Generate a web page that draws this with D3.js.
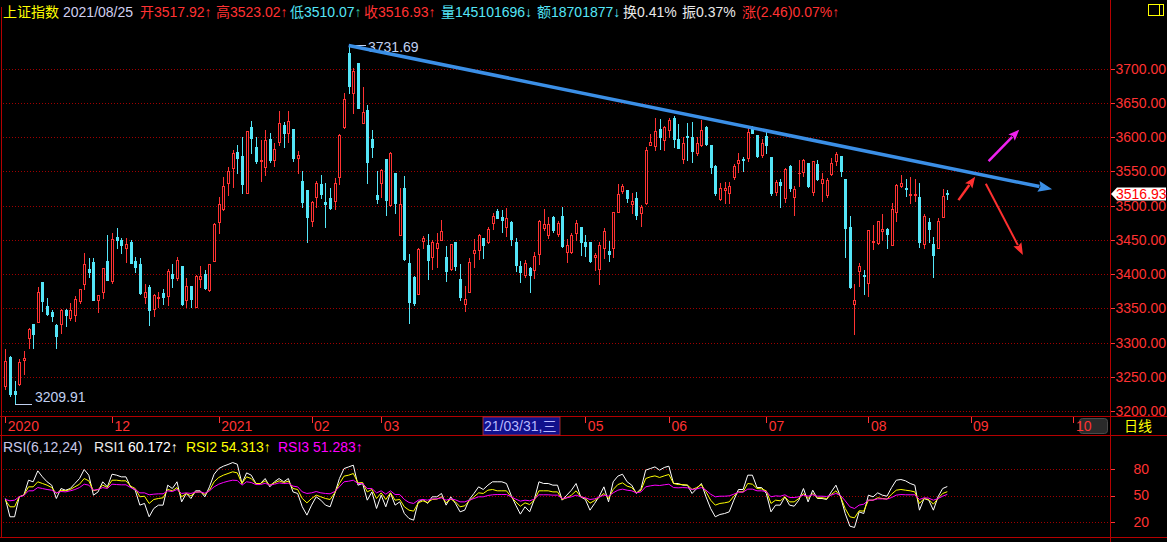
<!DOCTYPE html>
<html><head><meta charset="utf-8">
<script src="https://cdn.jsdelivr.net/npm/d3@7"></script>
<style>
html,body{margin:0;padding:0;background:#000;overflow:hidden}
svg{display:block}
text{font-family:"Liberation Sans","Noto Sans CJK SC",Arial,sans-serif;font-size:14px}
</style></head><body>
<svg id="c" width="1167" height="542"></svg>
<script>
// ---------------- DATA ----------------
const dates = [
"2020-10-29","2020-10-30",
"2020-11-02","2020-11-03","2020-11-04","2020-11-05","2020-11-06","2020-11-09","2020-11-10","2020-11-11","2020-11-12","2020-11-13","2020-11-16","2020-11-17","2020-11-18","2020-11-19","2020-11-20","2020-11-23","2020-11-24","2020-11-25","2020-11-26","2020-11-27","2020-11-30",
"2020-12-01","2020-12-02","2020-12-03","2020-12-04","2020-12-07","2020-12-08","2020-12-09","2020-12-10","2020-12-11","2020-12-14","2020-12-15","2020-12-16","2020-12-17","2020-12-18","2020-12-21","2020-12-22","2020-12-23","2020-12-24","2020-12-25","2020-12-28","2020-12-29","2020-12-30","2020-12-31",
"2021-01-04","2021-01-05","2021-01-06","2021-01-07","2021-01-08","2021-01-11","2021-01-12","2021-01-13","2021-01-14","2021-01-15","2021-01-18","2021-01-19","2021-01-20","2021-01-21","2021-01-22","2021-01-25","2021-01-26","2021-01-27","2021-01-28","2021-01-29",
"2021-02-01","2021-02-02","2021-02-03","2021-02-04","2021-02-05","2021-02-08","2021-02-09","2021-02-10","2021-02-18","2021-02-19","2021-02-22","2021-02-23","2021-02-24","2021-02-25","2021-02-26",
"2021-03-01","2021-03-02","2021-03-03","2021-03-04","2021-03-05","2021-03-08","2021-03-09","2021-03-10","2021-03-11","2021-03-12","2021-03-15","2021-03-16","2021-03-17","2021-03-18","2021-03-19","2021-03-22","2021-03-23","2021-03-24","2021-03-25","2021-03-26","2021-03-29","2021-03-30","2021-03-31",
"2021-04-01","2021-04-02","2021-04-06","2021-04-07","2021-04-08","2021-04-09","2021-04-12","2021-04-13","2021-04-14","2021-04-15","2021-04-16","2021-04-19","2021-04-20","2021-04-21","2021-04-22","2021-04-23","2021-04-26","2021-04-27","2021-04-28","2021-04-29","2021-04-30",
"2021-05-06","2021-05-07","2021-05-10","2021-05-11","2021-05-12","2021-05-13","2021-05-14","2021-05-17","2021-05-18","2021-05-19","2021-05-20","2021-05-21","2021-05-24","2021-05-25","2021-05-26","2021-05-27","2021-05-28","2021-05-31",
"2021-06-01","2021-06-02","2021-06-03","2021-06-04","2021-06-07","2021-06-08","2021-06-09","2021-06-10","2021-06-11","2021-06-15","2021-06-16","2021-06-17","2021-06-18","2021-06-21","2021-06-22","2021-06-23","2021-06-24","2021-06-25","2021-06-28","2021-06-29","2021-06-30",
"2021-07-01","2021-07-02","2021-07-05","2021-07-06","2021-07-07","2021-07-08","2021-07-09","2021-07-12","2021-07-13","2021-07-14","2021-07-15","2021-07-16","2021-07-19","2021-07-20","2021-07-21","2021-07-22","2021-07-23","2021-07-26","2021-07-27","2021-07-28","2021-07-29","2021-07-30",
"2021-08-02","2021-08-03","2021-08-04","2021-08-05","2021-08-06","2021-08-09","2021-08-10","2021-08-11","2021-08-12","2021-08-13","2021-08-16","2021-08-17","2021-08-18","2021-08-19","2021-08-20","2021-08-23","2021-08-24","2021-08-25"
];
const open = [
3237.1,3279.0,3228.8,3240.0,3274.1,3306.8,3326.8,3330.2,3388.1,3354.0,
3344.3,3326.3,3326.8,3347.2,3336.5,3340.9,3360.9,3386.2,3408.1,3417.4,
3361.8,3374.0,3418.9,3390.1,3454.4,3449.6,3438.8,3446.6,3418.9,3415.4,
3366.7,3380.4,3349.6,3365.5,3372.0,3368.2,3400.8,3394.9,3411.5,3362.8,
3382.3,3352.1,3393.0,3399.8,3376.4,3419.7,3476.4,3494.4,3532.4,3554.3,
3578.2,3572.4,3518.8,3614.3,3585.0,3565.0,3556.8,3597.2,3566.5,3592.4,
3617.7,3606.5,3611.4,3569.0,3535.3,3522.7,3477.8,3511.9,3531.4,3504.6,
3511.0,3506.1,3541.2,3614.3,3722.5,3664.0,3707.9,3620.1,3639.6,3596.7,
3515.8,3533.4,3567.5,3500.7,3547.0,3457.8,3526.0,3416.4,3395.9,3371.6,
3448.6,3442.3,3425.2,3437.4,3450.5,3425.2,3406.7,3446.6,3393.5,3357.0,
3374.0,3431.0,3435.0,3452.0,3447.1,3473.9,3492.5,3484.0,3469.0,3476.4,
3447.1,3411.5,3398.4,3409.6,3405.7,3429.1,3467.6,3457.8,3483.0,3458.0,
3484.7,3432.5,3432.5,3459.3,3469.0,3447.1,3446.6,3425.2,3408.1,3437.4,
3433.0,3437.4,3491.0,3521.7,3522.7,3502.2,3511.4,3488.6,3504.1,3588.5,
3587.0,3611.4,3595.8,3610.4,3628.4,3597.2,3567.5,3602.0,3600.6,3576.3,
3588.5,3615.3,3588.5,3557.8,3509.0,3523.0,3517.8,3541.2,3561.6,3567.5,
3569.0,3614.3,3603.1,3573.8,3601.6,3570.4,3519.2,3534.8,3510.5,3557.7,
3512.9,3547.0,3549.5,3561.6,3520.2,3560.2,3532.4,3515.3,3545.6,3565.5,
3572.4,3538.7,3468.1,3356.0,3404.7,3399.0,3387.2,3447.0,3444.7,3463.2,
3465.6,3443.2,3490.0,3529.0,3525.5,3516.0,3515.3,3511.9,3443.7,3475.4,
3443.7,3438.8,3483.7,3517.92
];
const high = [
3290.2,3280.4,3243.4,3276.1,3287.3,3320.9,3326.8,3380.4,3388.5,3365.7,
3347.2,3326.5,3349.6,3349.6,3357.9,3367.7,3378.9,3431.5,3424.2,3424.2,
3370.0,3408.5,3457.8,3459.3,3467.1,3453.0,3452.0,3449.1,3425.2,3422.8,
3385.2,3383.8,3371.6,3374.0,3378.9,3407.6,3414.5,3425.2,3412.0,3394.9,
3383.0,3398.0,3412.0,3405.7,3414.5,3474.9,3512.9,3542.2,3556.8,3581.1,
3588.5,3599.7,3608.5,3624.0,3599.7,3595.8,3610.4,3605.5,3590.9,3638.2,
3622.6,3638.2,3612.0,3579.7,3550.0,3523.0,3506.5,3535.3,3544.6,3532.4,
3525.1,3539.7,3604.0,3665.0,3731.69,3700.5,3708.0,3673.7,3646.9,3610.4,
3551.0,3553.9,3568.0,3578.0,3547.5,3525.1,3543.1,3429.6,3397.4,3437.4,
3455.4,3458.3,3449.6,3459.3,3478.8,3441.3,3444.0,3447.0,3414.5,3382.3,
3422.8,3451.0,3458.3,3452.5,3469.0,3488.6,3494.4,3494.0,3496.0,3477.0,
3452.0,3419.3,3420.3,3410.0,3432.5,3479.0,3494.4,3483.7,3485.0,3478.0,
3498.3,3451.0,3459.3,3478.8,3469.5,3457.8,3447.0,3431.0,3447.1,3466.6,
3448.1,3490.5,3530.9,3531.0,3523.0,3517.8,3519.2,3500.7,3585.0,3604.0,
3628.4,3626.0,3616.2,3628.4,3630.8,3619.2,3600.6,3620.0,3622.6,3600.6,
3625.0,3616.7,3589.0,3559.2,3533.4,3534.8,3534.8,3560.7,3576.3,3571.4,
3615.3,3616.2,3603.5,3596.7,3611.3,3570.5,3537.3,3538.7,3554.3,3559.2,
3528.5,3566.5,3567.5,3562.0,3565.0,3566.5,3548.0,3539.7,3569.0,3577.7,
3572.5,3539.0,3484.6,3386.2,3416.9,3405.7,3465.0,3471.5,3477.5,3487.6,
3467.6,3503.2,3531.0,3544.6,3538.7,3541.2,3538.7,3533.4,3487.1,3481.2,
3454.4,3482.2,3524.1,3523.02
];
const low = [
3232.2,3221.5,3209.91,3238.0,3254.1,3292.2,3292.2,3330.0,3346.2,3339.9,
3331.1,3292.2,3314.1,3323.8,3332.6,3331.6,3357.9,3377.9,3396.0,3362.0,
3344.8,3365.7,3391.0,3387.7,3437.4,3430.1,3417.9,3416.0,3403.2,3371.5,
3357.9,3325.3,3338.5,3352.0,3357.0,3354.5,3381.3,3391.0,3354.5,3352.1,
3352.1,3352.0,3381.3,3378.9,3375.5,3419.0,3459.3,3493.4,3515.4,3527.5,
3547.0,3518.8,3518.5,3577.2,3562.6,3535.3,3544.6,3564.1,3557.8,3588.5,
3586.0,3592.4,3565.5,3548.0,3498.3,3447.1,3470.0,3497.3,3510.5,3468.1,
3494.4,3494.4,3530.9,3614.0,3665.0,3635.7,3642.0,3620.0,3533.4,3571.4,
3503.2,3512.9,3486.1,3500.0,3488.6,3457.0,3421.0,3328.7,3354.5,3371.0,
3437.4,3393.5,3406.7,3410.6,3449.6,3390.1,3405.7,3405.7,3361.8,3346.2,
3374.0,3410.6,3421.3,3422.8,3446.0,3465.2,3481.2,3461.0,3455.0,3443.2,
3404.7,3388.6,3396.0,3374.0,3395.0,3414.5,3464.2,3452.0,3461.0,3455.0,
3439.8,3417.9,3430.1,3449.6,3427.6,3426.2,3417.9,3405.7,3386.2,3422.8,
3419.4,3425.2,3491.0,3518.8,3505.6,3488.6,3480.3,3470.5,3503.0,3588.0,
3581.1,3582.1,3581.1,3600.6,3585.0,3584.0,3562.6,3567.0,3564.1,3573.8,
3587.0,3588.0,3548.0,3515.4,3508.0,3504.1,3504.1,3538.3,3549.5,3550.9,
3565.5,3606.0,3571.4,3571.4,3576.3,3515.3,3515.3,3498.3,3505.6,3521.7,
3486.1,3528.5,3543.1,3526.6,3515.3,3537.3,3507.1,3512.9,3544.6,3559.2,
3543.1,3425.2,3380.0,3312.72,3382.8,3370.6,3368.2,3436.4,3443.7,3450.5,
3438.4,3442.2,3477.8,3526.6,3514.4,3503.2,3507.1,3439.8,3438.4,3447.1,
3395.9,3438.0,3482.7,3510.07
];
const close = [
3272.74,3224.53,3225.12,3271.07,3277.44,3320.13,3312.16,3373.73,3360.15,3342.20,
3338.68,3310.10,3346.97,3339.90,3347.30,3363.09,3377.73,3414.49,3402.82,3362.33,
3369.73,3408.31,3391.76,3451.94,3449.38,3442.14,3444.58,3416.60,3410.18,3371.96,
3373.28,3347.19,3369.12,3367.23,3366.98,3404.87,3394.90,3420.57,3356.78,3382.32,
3363.11,3396.56,3397.29,3379.04,3414.45,3473.07,3502.96,3528.68,3550.88,3576.20,
3570.11,3531.50,3608.34,3598.65,3565.90,3566.38,3596.22,3566.26,3583.09,3621.26,
3606.75,3624.24,3569.43,3573.34,3505.18,3483.07,3505.28,3533.68,3517.31,3501.86,
3496.33,3532.44,3603.49,3655.09,3675.36,3696.17,3642.44,3636.36,3564.08,3585.05,
3509.08,3551.40,3508.59,3576.90,3503.49,3501.99,3421.41,3359.29,3357.74,3436.83,
3453.08,3419.95,3446.73,3445.55,3463.07,3404.66,3443.44,3411.51,3367.06,3363.59,
3418.33,3435.30,3456.68,3441.91,3466.33,3484.39,3482.48,3479.63,3482.55,3450.68,
3412.95,3403.56,3416.42,3398.99,3426.62,3477.55,3472.94,3472.93,3465.11,3474.17,
3441.17,3442.61,3457.07,3474.90,3446.86,3441.28,3418.87,3427.99,3441.85,3462.75,
3429.54,3490.38,3517.62,3529.01,3510.96,3506.94,3486.56,3497.28,3581.34,3593.36,
3608.85,3600.78,3615.48,3624.71,3597.14,3584.22,3591.84,3599.54,3580.11,3591.40,
3610.86,3589.75,3556.56,3518.33,3525.10,3525.60,3529.18,3557.41,3566.65,3566.22,
3607.56,3606.37,3573.18,3591.20,3588.78,3518.76,3534.32,3530.26,3553.72,3525.50,
3524.09,3547.84,3566.47,3528.50,3564.59,3539.30,3539.12,3536.79,3562.70,3574.73,
3550.40,3467.44,3381.18,3361.59,3411.72,3397.36,3464.29,3447.99,3477.22,3466.56,
3458.23,3494.63,3529.93,3532.62,3524.74,3516.30,3517.34,3446.98,3485.29,3465.55,
3427.33,3477.13,3514.47,3516.93
];
const rsi1 = [
46.6,25.9,25.9,48.5,50.4,67.3,65.5,77.9,71.1,65.5,
61.7,46.6,57.9,56.0,57.9,63.6,69.2,79.4,73.0,50.4,
54.1,65.5,59.8,74.1,73.0,71.1,71.1,59.8,56.0,39.1,
41.0,25.9,35.3,39.1,39.1,61.7,57.9,65.5,42.8,52.3,
46.6,55.3,55.3,48.5,59.8,74.1,80.5,83.2,85.1,87.3,
85.4,63.6,75.6,73.0,63.6,63.6,69.2,59.8,65.5,69.2,
65.5,69.2,54.1,52.3,37.2,27.8,39.1,48.5,44.7,39.1,
37.2,52.3,69.2,80.5,82.4,84.3,61.7,63.6,44.7,54.1,
35.3,50.4,37.2,53.0,39.1,42.8,29.6,24.0,22.1,42.8,
45.5,41.0,48.5,48.5,52.3,39.1,48.5,41.0,31.5,33.4,
45.5,52.3,59.8,56.8,61.7,65.5,65.5,65.5,63.6,50.4,
39.1,28.9,37.2,31.5,45.5,65.5,63.6,63.6,61.7,61.7,
44.7,50.4,56.0,63.6,48.5,45.5,33.4,41.0,49.2,59.8,
42.8,65.5,71.9,74.1,65.5,61.7,52.3,57.9,78.7,80.5,
82.4,78.7,81.7,83.2,63.6,63.6,61.7,61.7,52.3,57.9,
63.6,48.5,35.3,25.9,28.5,29.6,31.5,44.7,56.8,56.8,
73.0,73.0,59.0,59.0,52.3,31.5,39.1,39.1,48.5,39.1,
37.9,44.7,57.9,42.8,56.0,46.6,46.6,45.5,54.1,61.7,
48.5,29.6,15.3,13.8,31.5,29.6,50.4,48.5,53.0,50.4,
49.2,59.0,67.3,68.1,66.6,63.6,61.7,33.4,46.6,44.7,
33.4,48.5,57.9,60.172
];
const rsi2 = [
44.7,37.2,37.2,48.5,50.4,59.8,59.8,65.5,63.6,61.7,
59.0,52.3,56.0,55.3,56.8,59.8,62.8,69.2,66.6,55.3,
56.8,61.7,59.0,67.3,67.3,66.6,66.6,60.6,57.9,48.5,
49.2,41.0,45.5,46.6,47.4,56.8,55.3,59.0,48.5,52.3,
49.6,53.8,54.1,51.1,56.0,65.5,70.4,73.0,74.9,76.8,
75.6,63.6,71.1,69.2,63.6,63.6,66.6,61.7,64.3,66.6,
64.7,66.2,57.9,56.8,46.6,41.7,46.6,50.4,48.5,46.6,
45.5,53.0,63.6,71.9,73.0,74.9,64.3,64.7,54.1,56.8,
46.6,53.0,45.5,53.0,44.7,45.5,37.2,33.4,32.3,41.7,
44.0,42.1,45.5,45.9,48.5,41.7,45.9,42.8,37.2,38.3,
44.0,48.5,53.0,52.3,56.0,56.8,55.3,55.3,55.3,48.5,
42.8,37.9,41.7,39.8,44.7,55.3,55.3,55.3,54.1,54.1,
45.5,47.4,50.4,55.3,48.5,47.0,41.3,44.3,48.1,52.3,
46.6,56.8,62.4,64.3,60.6,59.0,53.0,56.0,69.2,71.1,
72.2,70.4,72.2,73.8,63.6,62.4,62.4,61.7,56.8,59.0,
62.4,54.1,44.7,39.1,41.0,41.7,42.8,49.2,54.1,54.1,
63.6,62.8,57.9,57.5,55.3,41.0,44.7,44.0,48.5,42.8,
42.8,46.6,52.3,46.6,52.3,47.4,47.4,46.6,51.1,55.3,
48.5,35.3,25.9,24.7,32.7,32.3,44.7,44.7,47.4,46.6,
45.9,51.5,56.0,56.8,56.0,55.3,54.1,41.0,46.6,45.5,
40.2,46.6,52.3,54.313
];
const rsi3 = [
45.5,44.0,44.7,48.5,50.0,55.3,55.3,59.0,57.9,56.8,
56.0,53.0,54.5,54.1,55.3,56.8,59.0,62.8,61.7,56.0,
56.8,59.0,57.9,62.8,62.4,62.1,62.1,59.0,56.8,53.0,
53.0,50.8,51.5,51.9,51.9,55.3,54.5,56.8,52.3,53.0,
52.3,53.8,54.1,52.6,55.3,59.8,62.8,64.7,66.2,67.3,
67.0,61.7,65.5,64.7,62.4,62.4,63.9,61.7,62.8,64.3,
63.6,63.9,60.6,59.8,54.1,52.3,53.0,54.5,53.0,52.3,
51.9,54.5,59.8,65.5,66.2,67.3,63.6,63.6,57.9,57.9,
53.0,55.3,51.5,55.3,51.1,51.1,45.5,42.1,41.0,44.7,
45.5,44.7,46.2,46.2,47.4,44.7,46.2,45.1,42.8,42.8,
44.7,46.6,48.5,48.5,50.0,50.8,51.1,51.1,51.1,48.5,
45.9,43.6,44.7,44.0,45.9,50.8,50.8,50.8,50.4,50.4,
46.6,47.4,48.5,50.4,48.5,47.4,45.5,46.2,48.1,50.4,
49.2,53.0,56.0,57.2,56.0,55.3,53.0,54.1,59.8,60.9,
61.7,61.3,62.1,62.8,59.0,58.7,59.0,58.7,56.8,57.5,
59.0,56.0,51.5,48.5,49.2,49.2,49.6,51.5,53.8,53.8,
57.2,57.2,55.3,55.3,54.5,48.5,49.6,49.2,50.8,47.7,
47.7,48.5,50.4,49.2,50.8,49.2,49.2,48.9,50.4,52.3,
50.0,44.0,37.2,35.3,39.1,40.2,44.7,44.7,46.2,46.2,
45.9,47.7,50.4,51.1,50.8,50.8,50.8,45.5,47.4,47.0,
44.7,46.6,49.2,51.283
];
const priceTicks = [3200,3250,3300,3350,3400,3450,3500,3550,3600,3650,3700];
const rsiTicks = [20,50,80];
// month labels visible on the time axis ("04" is hidden under the cursor date box in the reference)
const axisLabels = ["2020","12","2021","02","03","05","06","07","08","09","10"];
const axisSlots  = [0,23,46,66,81,125,143,164,186,208,230];   // trading-day slot of each month start
const volumeText = "145101696", amountText = "18701877", turnoverText = "0.41%", swingText = "0.37%";
const cursorSlot = 103, cursorLabel = "21/03/31,三";
// drawn annotations, in (slot, price) units
const trendLine = [[74,3734],[225.6,3524]];
const arrowUp   = [[205.4,3508],[209.0,3542]];
const arrowMag  = [[211.9,3565],[218.5,3611]];
const arrowDown = [[211.3,3532],[219.3,3428]];

// ---------------- DRAW ----------------
const RED="#ff3232", CYAN="#54e6f8", GRID="#a00000", LINE="#b40000";
const svg = d3.select("#c");
svg.append("rect").attr("width",1167).attr("height",542).attr("fill","#000");

const x  = d3.scaleLinear().domain([0,203]).range([5.3,947.3]);
const y  = d3.scaleLinear().domain([3200,3700]).range([411,68.7]);
const yr = d3.scaleLinear().domain([20,80]).range([522,469]);
const px = i => Math.round(x(i));

const g = svg.append("g").attr("shape-rendering","crispEdges");
const frame = [[1.5,7,1.5,537],[1110.5,0,1110.5,542],[0,416.5,1167,416.5],[0,435.5,1167,435.5],[0,537.5,1167,537.5]];
g.selectAll(".fr").data(frame).join("line").attr("x1",d=>d[0]).attr("y1",d=>d[1]).attr("x2",d=>d[2]).attr("y2",d=>d[3]).attr("stroke",LINE);

g.selectAll(".pg").data(priceTicks).join("line")
 .attr("x1",3).attr("x2",1109).attr("y1",d=>Math.round(y(d))+0.5).attr("y2",d=>Math.round(y(d))+0.5)
 .attr("stroke",GRID).attr("stroke-dasharray","1,2");
const pa = svg.append("g").attr("transform","translate(1110.5,0)")
 .call(d3.axisRight(y).tickValues(priceTicks).tickFormat(d3.format(".2f")).tickSize(4).tickPadding(1));
pa.select(".domain").remove();
pa.selectAll("line").attr("stroke",RED).attr("shape-rendering","crispEdges");
pa.selectAll("text").attr("fill",RED);

g.selectAll(".rg").data(rsiTicks).join("line")
 .attr("x1",3).attr("x2",1109).attr("y1",d=>Math.round(yr(d))+0.5).attr("y2",d=>Math.round(yr(d))+0.5)
 .attr("stroke",GRID).attr("stroke-dasharray","1,2");
const ra = svg.append("g").attr("transform","translate(1110.5,0)")
 .call(d3.axisRight(yr).tickValues(rsiTicks).tickFormat(d3.format("d")).tickSize(4).tickPadding(19));
ra.select(".domain").remove();
ra.selectAll("line").attr("stroke",RED).attr("shape-rendering","crispEdges");
ra.selectAll("text").attr("fill",RED);

const xa = svg.append("g").attr("transform","translate(0,416.5)")
 .call(d3.axisBottom(x).tickValues(axisSlots.slice(0,-1)).tickFormat((d,i)=>axisLabels[i]).tickSize(6).tickPadding(0));
xa.select(".domain").remove();
xa.selectAll("line").attr("stroke",RED).attr("shape-rendering","crispEdges");
xa.selectAll("text").attr("fill",RED).attr("text-anchor","start").attr("dx",2).attr("y",0).attr("dy","14px");
// last month label drawn as a scroll-button
const tenX = Math.round(x(axisSlots[axisSlots.length-1]));
svg.append("line").attr("x1",tenX+0.5).attr("x2",tenX+0.5).attr("y1",416.5).attr("y2",422.5).attr("stroke",RED).attr("shape-rendering","crispEdges");
svg.append("rect").attr("x",tenX+6.5).attr("y",418.5).attr("width",1108-tenX-7).attr("height",15).attr("rx",3)
   .attr("fill","#2a2a2a").attr("stroke","#4a4a4a");
svg.append("text").attr("x",tenX+3).attr("y",430.5).attr("fill",RED).text(axisLabels[axisLabels.length-1]);
// cursor date box
const cbx = px(cursorSlot);
svg.append("rect").attr("x",cbx).attr("y",417).attr("width",77).attr("height",18).attr("fill","#10108c").attr("stroke","#c03030").attr("stroke-width",0.8);
svg.append("text").attr("x",cbx+1).attr("y",430.5).attr("fill","#b8b8ff").text(cursorLabel);
svg.append("text").attr("x",1138).attr("y",431).attr("text-anchor","middle").attr("fill","#ffff00")
   .attr("font-family",'"Noto Sans CJK SC",sans-serif').text("日线");
// top-right icon
svg.append("rect").attr("x",1148.5).attr("y",4.5).attr("width",15).attr("height",11).attr("fill","none").attr("stroke","#ffff00");
svg.append("line").attr("x1",1159.5).attr("x2",1159.5).attr("y1",4.5).attr("y2",15.5).attr("stroke","#ffff00");

// candles
const cg = svg.append("g").attr("shape-rendering","crispEdges");
close.forEach((c,i)=>{
  const o=open[i], h=high[i], l=low[i], p=px(i);
  const up = c>=o;
  const col = up?RED:CYAN;
  const yt = Math.round(y(Math.max(o,c))), yb = Math.round(y(Math.min(o,c)));
  const yh = Math.round(y(h)), yl = Math.round(y(l));
  if(!up){
    cg.append("line").attr("x1",p+0.5).attr("x2",p+0.5).attr("y1",yh).attr("y2",yl+1).attr("stroke",col);
    cg.append("rect").attr("x",p-1).attr("y",yt).attr("width",3).attr("height",Math.max(1,yb-yt+1)).attr("fill",col);
  } else {
    if(yh<yt) cg.append("line").attr("x1",p+0.5).attr("x2",p+0.5).attr("y1",yh).attr("y2",yt).attr("stroke",col);
    if(yl>yb) cg.append("line").attr("x1",p+0.5).attr("x2",p+0.5).attr("y1",yb+1).attr("y2",yl+1).attr("stroke",col);
    if(yb-yt<2) cg.append("rect").attr("x",p-1).attr("y",yt).attr("width",3).attr("height",Math.max(1,yb-yt+1)).attr("fill",col);
    else cg.append("rect").attr("x",p-0.5).attr("y",yt+0.5).attr("width",2).attr("height",yb-yt).attr("fill","#000").attr("stroke",col);
  }
});

// high / low markers
const hiI = d3.maxIndex(high), loI = d3.minIndex(low);
const MK="#c0d0f0";
svg.append("path").attr("d",`M${px(hiI)+0.5},${Math.round(y(high[hiI]))}V${Math.round(y(high[hiI]))-1.5}H${px(hiI)+17}`).attr("stroke",MK).attr("fill","none");
svg.append("text").attr("x",px(hiI)+19).attr("y",y(high[hiI])+5).attr("fill",MK).text(high[hiI].toFixed(2));
svg.append("path").attr("d",`M${px(loI)+0.5},${Math.round(y(low[loI]))}V${Math.round(y(low[loI]))+0.5}H${px(loI)+17}`).attr("stroke",MK).attr("fill","none");
svg.append("text").attr("x",px(loI)+20).attr("y",y(low[loI])-2).attr("fill",MK).text(low[loI].toFixed(2));

// RSI lines
const line = d3.line().x((d,i)=>x(i)).y(d=>yr(d));
[[rsi1,"#ffffff"],[rsi2,"#ffff00"],[rsi3,"#ff00ff"]].forEach(([s,c])=>{
  svg.append("path").attr("d",line(s)).attr("fill","none").attr("stroke",c).attr("stroke-width",1);
});

// annotation arrows
function arrow(pts,color,w,hl,hw){
  const x1=x(pts[0][0]), y1=y(pts[0][1]), x2=x(pts[1][0]), y2=y(pts[1][1]);
  const a=Math.atan2(y2-y1,x2-x1), ca=Math.cos(a), sa=Math.sin(a);
  const bx=x2-hl*ca, by=y2-hl*sa;
  svg.append("line").attr("x1",x1).attr("y1",y1).attr("x2",bx+ca).attr("y2",by+sa).attr("stroke",color).attr("stroke-width",w);
  svg.append("path").attr("d",`M${x2},${y2}L${bx-hw/2*sa},${by+hw/2*ca}L${bx+2*ca},${by+2*sa}L${bx+hw/2*sa},${by-hw/2*ca}Z`).attr("fill",color);
}
arrow(trendLine,"#3b8fe6",3.5,14,11);
arrow(arrowUp,"#ff3030",2.5,11,9);
arrow(arrowMag,"#f020f0",2.5,11,9);
arrow(arrowDown,"#ff3030",2,12,9);

// current price tag
const last = close.length-1, ty = y(close[last]);
svg.append("path").attr("d",`M1111,${ty}L1117,${ty-6.5}H1166V${ty+6.5}H1117Z`).attr("fill","#ffffff");
svg.append("text").attr("x",1116).attr("y",ty+5).attr("fill","#ff0000").text(close[last].toFixed(2));

// header
const chg = close[last]-close[last-1];
const hdr = [
 [3,[["上证指数","#ffff00"]]],
 [63,[["2021/08/25","#d0d0f0"]]],
 [140,[["开",RED],[open[last].toFixed(2)+"↑",RED]]],
 [216,[["高",RED],[high[last].toFixed(2)+"↑",RED]]],
 [290,[["低",CYAN],[low[last].toFixed(2),CYAN],["↑","#30d0a0"]]],
 [364,[["收",RED],[close[last].toFixed(2)+"↑",RED]]],
 [441,[["量",CYAN],[volumeText+"↓",CYAN]]],
 [537,[["额",CYAN],[amountText+"↓",CYAN]]],
 [623,[["换"+turnoverText,"#e8e8e8"]]],
 [682,[["振"+swingText,"#e8e8e8"]]],
 [742,[["涨("+chg.toFixed(2)+")"+(chg/close[last-1]*100).toFixed(2)+"%↑",RED]]]
];
hdr.forEach(([hx,parts])=>{
  const t=svg.append("text").attr("x",hx).attr("y",17);
  parts.forEach(([s,c])=>t.append("tspan").attr("fill",c).text(s));
});

// RSI header
const rh = [[3,"RSI(6,12,24)","#c8c8e8"],[94,"RSI1","#e8e8e8"],[128,rsi1[last].toFixed(3)+"↑","#ffffff"],
            [186,"RSI2","#ffff00"],[221,rsi2[last].toFixed(3)+"↑","#ffff00"],
            [278,"RSI3","#ff00ff"],[313,rsi3[last].toFixed(3)+"↑","#ff00ff"]];
rh.forEach(([hx,s,c])=>svg.append("text").attr("x",hx).attr("y",452).attr("fill",c).text(s));
</script>
</body></html>
